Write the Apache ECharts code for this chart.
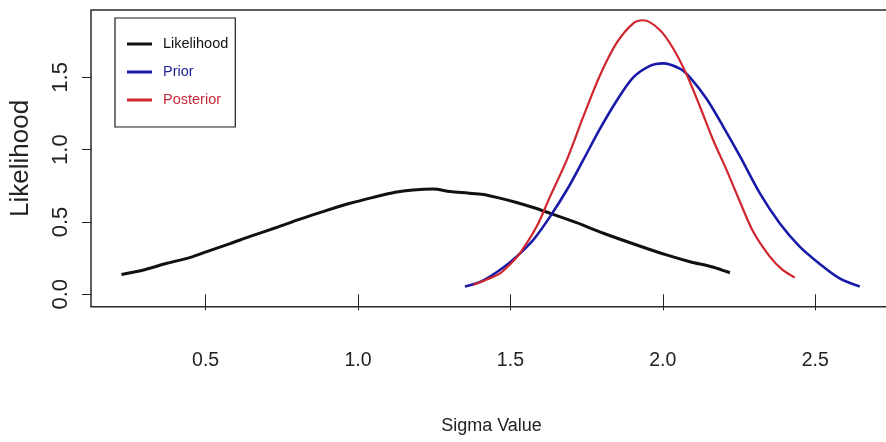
<!DOCTYPE html>
<html>
<head>
<meta charset="utf-8">
<style>
  html, body { margin: 0; padding: 0; background: #ffffff; }
  #chart { width: 886px; height: 442px; }
</style>
<script src="https://cdn.jsdelivr.net/npm/echarts@6/dist/echarts.min.js"></script>
</head>
<body>
<div id="chart"></div>
<script>
// Sigma grid and curve heights for each density
const likelihoodX = [0.224, 0.30, 0.373, 0.45, 0.504, 0.58, 0.646, 0.73, 0.81, 0.89, 0.974, 1.05, 1.122, 1.18, 1.247, 1.302, 1.36, 1.411, 1.455, 1.52, 1.575, 1.63, 1.717, 1.805, 1.914, 2.012, 2.089, 2.16, 2.22];
const likelihoodY = [0.137, 0.17, 0.214, 0.255, 0.295, 0.35, 0.40, 0.46, 0.52, 0.575, 0.629, 0.67, 0.705, 0.721, 0.728, 0.71, 0.70, 0.69, 0.67, 0.635, 0.60, 0.56, 0.495, 0.422, 0.341, 0.272, 0.225, 0.19, 0.149];

const priorX = [1.351, 1.40, 1.433, 1.48, 1.52, 1.575, 1.63, 1.685, 1.739, 1.794, 1.849, 1.903, 1.958, 2.001, 2.056, 2.089, 2.144, 2.198, 2.253, 2.318, 2.384, 2.449, 2.515, 2.58, 2.646];
const priorY = [0.053, 0.085, 0.122, 0.19, 0.26, 0.376, 0.537, 0.721, 0.929, 1.145, 1.34, 1.50, 1.58, 1.597, 1.56, 1.50, 1.35, 1.16, 0.955, 0.70, 0.49, 0.33, 0.21, 0.11, 0.053];

const posteriorX = [1.378, 1.42, 1.466, 1.50, 1.531, 1.586, 1.63, 1.685, 1.739, 1.794, 1.849, 1.903, 1.936, 1.99, 2.034, 2.078, 2.122, 2.165, 2.209, 2.253, 2.297, 2.351, 2.392, 2.433];
const posteriorY = [0.064, 0.10, 0.145, 0.21, 0.283, 0.468, 0.675, 0.929, 1.228, 1.515, 1.74, 1.874, 1.895, 1.828, 1.70, 1.52, 1.297, 1.067, 0.86, 0.64, 0.43, 0.26, 0.17, 0.115];

// Tick positions
const xTicks = [0.5, 1.0, 1.5, 2.0, 2.5];
const yTicks = [0.0, 0.5, 1.0, 1.5];

const seriesNames = ['Likelihood', 'Prior', 'Posterior'];
const seriesColors = ['#111111', '#1a1aa8', '#d0262e'];
const legendTextColors = ['#111111', '#1f1f95', '#c42a3a'];

function pairs(xs, ys) {
  return xs.map((x, i) => [x, ys[i]]);
}

const chart = echarts.init(document.getElementById('chart'), null, { renderer: 'canvas' });

const font = 'Liberation Sans, Arial, sans-serif';

chart.setOption({
  backgroundColor: '#ffffff',
  animation: false,
  grid: {
    left: 91,
    top: 10,
    width: 823,
    height: 296.7,
    outerBoundsMode: 'none',
    containLabel: false,
    show: true,
    borderColor: '#2a2a2a',
    borderWidth: 1.5,
    backgroundColor: 'transparent'
  },
  legend: {
    left: 115,
    top: 18,
    orient: 'vertical',
    padding: [18.5, 7, 19.5, 12],
    itemGap: 13,
    itemWidth: 25,
    itemHeight: 3,
    borderColor: '#1a1a1a',
    borderWidth: 1.2,
    backgroundColor: '#ffffff',
    textStyle: { fontFamily: font, fontSize: 14.5, padding: [0, 0, 0, 6] },
    data: seriesNames.map((n, i) => ({
      name: n,
      icon: 'rect',
      itemStyle: { color: seriesColors[i] },
      textStyle: { color: legendTextColors[i] }
    }))
  },
  xAxis: {
    type: 'value',
    min: 0.124,
    max: 2.824,
    name: 'Sigma Value',
    nameLocation: 'middle',
    nameGap: 110,
    nameTextStyle: { fontFamily: font, fontSize: 18, color: '#222', padding: [0, 22, 0, 0] },
    axisLine: { show: false },
    splitLine: { show: false },
    axisTick: {
      show: true,
      length: 16,
      customValues: xTicks,
      lineStyle: { color: '#222', width: 1 }
    },
    axisLabel: {
      customValues: xTicks,
      margin: 44,
      fontFamily: font,
      fontSize: 19.5,
      color: '#222',
      formatter: v => v.toFixed(1)
    }
  },
  yAxis: {
    type: 'value',
    min: -0.086,
    max: 1.966,
    name: 'Likelihood',
    nameLocation: 'middle',
    nameGap: 57,
    nameRotate: 90,
    nameTextStyle: { fontFamily: font, fontSize: 26, color: '#222' },
    axisLine: { show: false },
    splitLine: { show: false },
    axisTick: {
      show: true,
      length: 9,
      customValues: yTicks,
      lineStyle: { color: '#222', width: 1 }
    },
    axisLabel: {
      customValues: yTicks,
      rotate: 90,
      margin: 19,
      fontFamily: font,
      fontSize: 22,
      color: '#222',
      formatter: v => v.toFixed(1)
    }
  },
  series: [
    {
      name: 'Likelihood',
      type: 'line',
      data: pairs(likelihoodX, likelihoodY),
      smooth: 0.3,
      showSymbol: false,
      lineStyle: { color: seriesColors[0], width: 3 },
      itemStyle: { color: seriesColors[0] }
    },
    {
      name: 'Prior',
      type: 'line',
      data: pairs(priorX, priorY),
      smooth: 0.3,
      showSymbol: false,
      lineStyle: { color: seriesColors[1], width: 2.6 },
      itemStyle: { color: seriesColors[1] }
    },
    {
      name: 'Posterior',
      type: 'line',
      data: pairs(posteriorX, posteriorY),
      smooth: 0.3,
      showSymbol: false,
      lineStyle: { color: seriesColors[2], width: 2.2 },
      itemStyle: { color: seriesColors[2] }
    }
  ]
});
</script>
</body>
</html>
